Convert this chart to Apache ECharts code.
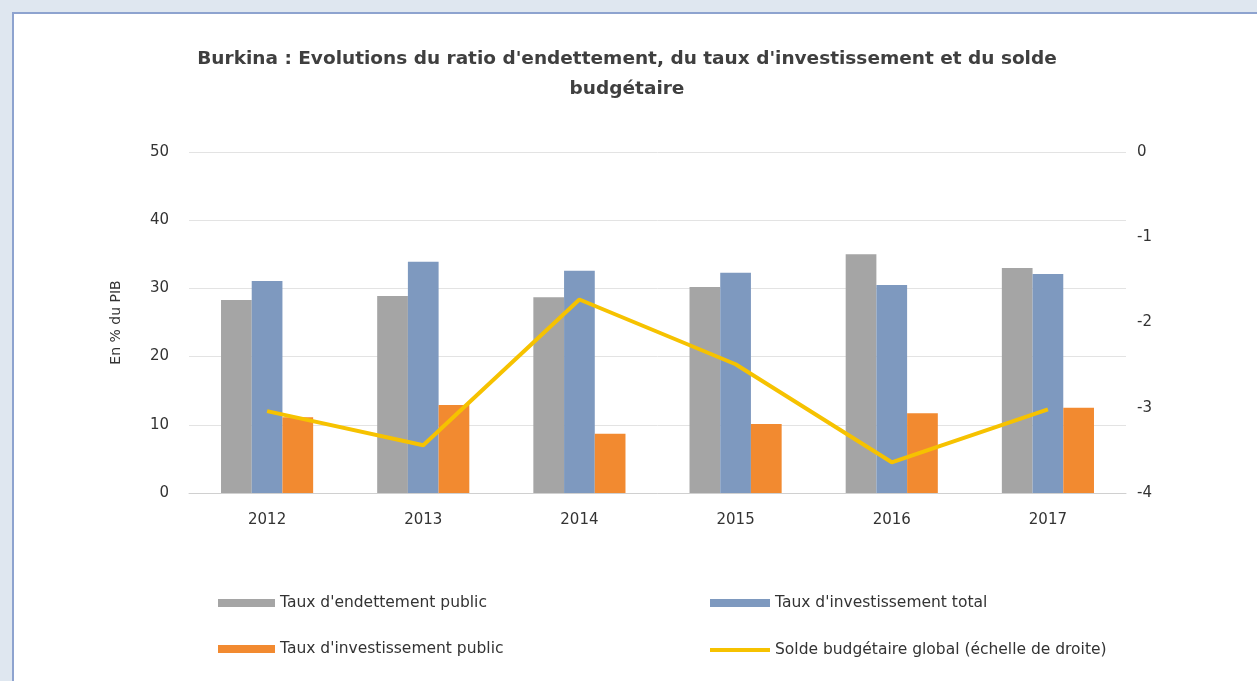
<!DOCTYPE html>
<html>
<head>
<meta charset="utf-8">
<script src="https://cdn.jsdelivr.net/npm/echarts@6/dist/echarts.min.js"></script>
<style>
html,body{margin:0;padding:0;background:#dfe7f0;}
#c{width:1257px;height:681px;}
</style>
</head>
<body>
<div id="c"></div>
<script>
const categories = ['2012','2013','2014','2015','2016','2017'];
const endettement = [28.3, 28.9, 28.7, 30.2, 35.0, 33.0];
const investTotal = [31.1, 33.9, 32.6, 32.3, 30.5, 32.1];
const investPublic = [11.1, 12.9, 8.7, 10.1, 11.7, 12.5];
const solde = [-3.04, -3.44, -1.73, -2.49, -3.64, -3.02];
const leftTicks = [0, 10, 20, 30, 40, 50];
const rightTicks = [-4, -3, -2, -1, 0];

const names = ["Taux d'endettement public", "Taux d'investissement total", "Taux d'investissement public", "Solde budgétaire global (échelle de droite)"];
const font = 'DejaVu Sans';
const legendText = {fontFamily: font, fontSize: 15.5, color: '#333'};
const chart = echarts.init(document.getElementById('c'));
chart.setOption({
  backgroundColor: 'transparent',
  animation: false,
  graphic: [{
    type: 'rect', left: 12, top: 12, z: -10,
    shape: {width: 1257, height: 681},
    style: {fill: '#ffffff', stroke: '#8ea3cf', lineWidth: 2}
  }],
  title: {
    text: "Burkina : Evolutions du ratio d'endettement, du taux d'investissement et du solde\nbudgétaire",
    left: 622, top: 39, textAlign: 'center',
    textStyle: {fontFamily: font, fontWeight: 'bold', fontSize: 18.5, color: '#3f3f3f', lineHeight: 30}
  },
  legend: [{
    orient: 'vertical', left: 213, top: 590, itemGap: 30,
    itemWidth: 57, itemHeight: 8,
    textStyle: legendText,
    data: [{name: names[0], icon: 'rect'}, {name: names[2], icon: 'rect'}]
  }, {
    orient: 'vertical', left: 705, top: 590,
    itemWidth: 60, itemHeight: 8,
    textStyle: legendText,
    data: [{name: names[1], icon: 'rect'}]
  }, {
    orient: 'vertical', left: 705, top: 637,
    itemWidth: 60, itemHeight: 4,
    textStyle: legendText,
    data: [{name: names[3], icon: 'rect'}]
  }],
  grid: {left: 189, right: 131, top: 152, bottom: 188},
  xAxis: {
    type: 'category', data: categories,
    axisLine: {lineStyle: {color: '#d0d0d0'}},
    axisTick: {show: false},
    axisLabel: {fontFamily: font, fontSize: 15, color: '#333', margin: 20}
  },
  yAxis: [{
    type: 'value', min: leftTicks[0], max: leftTicks[leftTicks.length-1], interval: 10,
    name: 'En % du PIB', nameLocation: 'middle', nameGap: 66, nameRotate: 90,
    nameTextStyle: {fontFamily: font, fontSize: 14, color: '#333'},
    axisLine: {show: false}, axisTick: {show: false},
    axisLabel: {fontFamily: font, fontSize: 15, color: '#333', margin: 20},
    splitLine: {lineStyle: {color: '#e3e3e3'}}
  }, {
    type: 'value', min: rightTicks[0], max: rightTicks[rightTicks.length-1], interval: 1,
    position: 'right',
    axisLine: {show: false}, axisTick: {show: false},
    axisLabel: {fontFamily: font, fontSize: 15, color: '#333', margin: 11},
    splitLine: {show: false}
  }],
  series: [{
    name: names[0], type: 'bar', data: endettement, barGap: '0%', barCategoryGap: '41%',
    itemStyle: {color: '#a5a5a5'}
  }, {
    name: names[1], type: 'bar', data: investTotal, barGap: '0%', barCategoryGap: '41%',
    itemStyle: {color: '#7e99bf'}
  }, {
    name: names[2], type: 'bar', data: investPublic, barGap: '0%', barCategoryGap: '41%',
    itemStyle: {color: '#f28a30'}
  }, {
    name: names[3], type: 'line', yAxisIndex: 1, data: solde, symbol: 'none',
    lineStyle: {color: '#f6c200', width: 4}, itemStyle: {color: '#f6c200'}, z: 5
  }]
});
</script>
</body>
</html>
